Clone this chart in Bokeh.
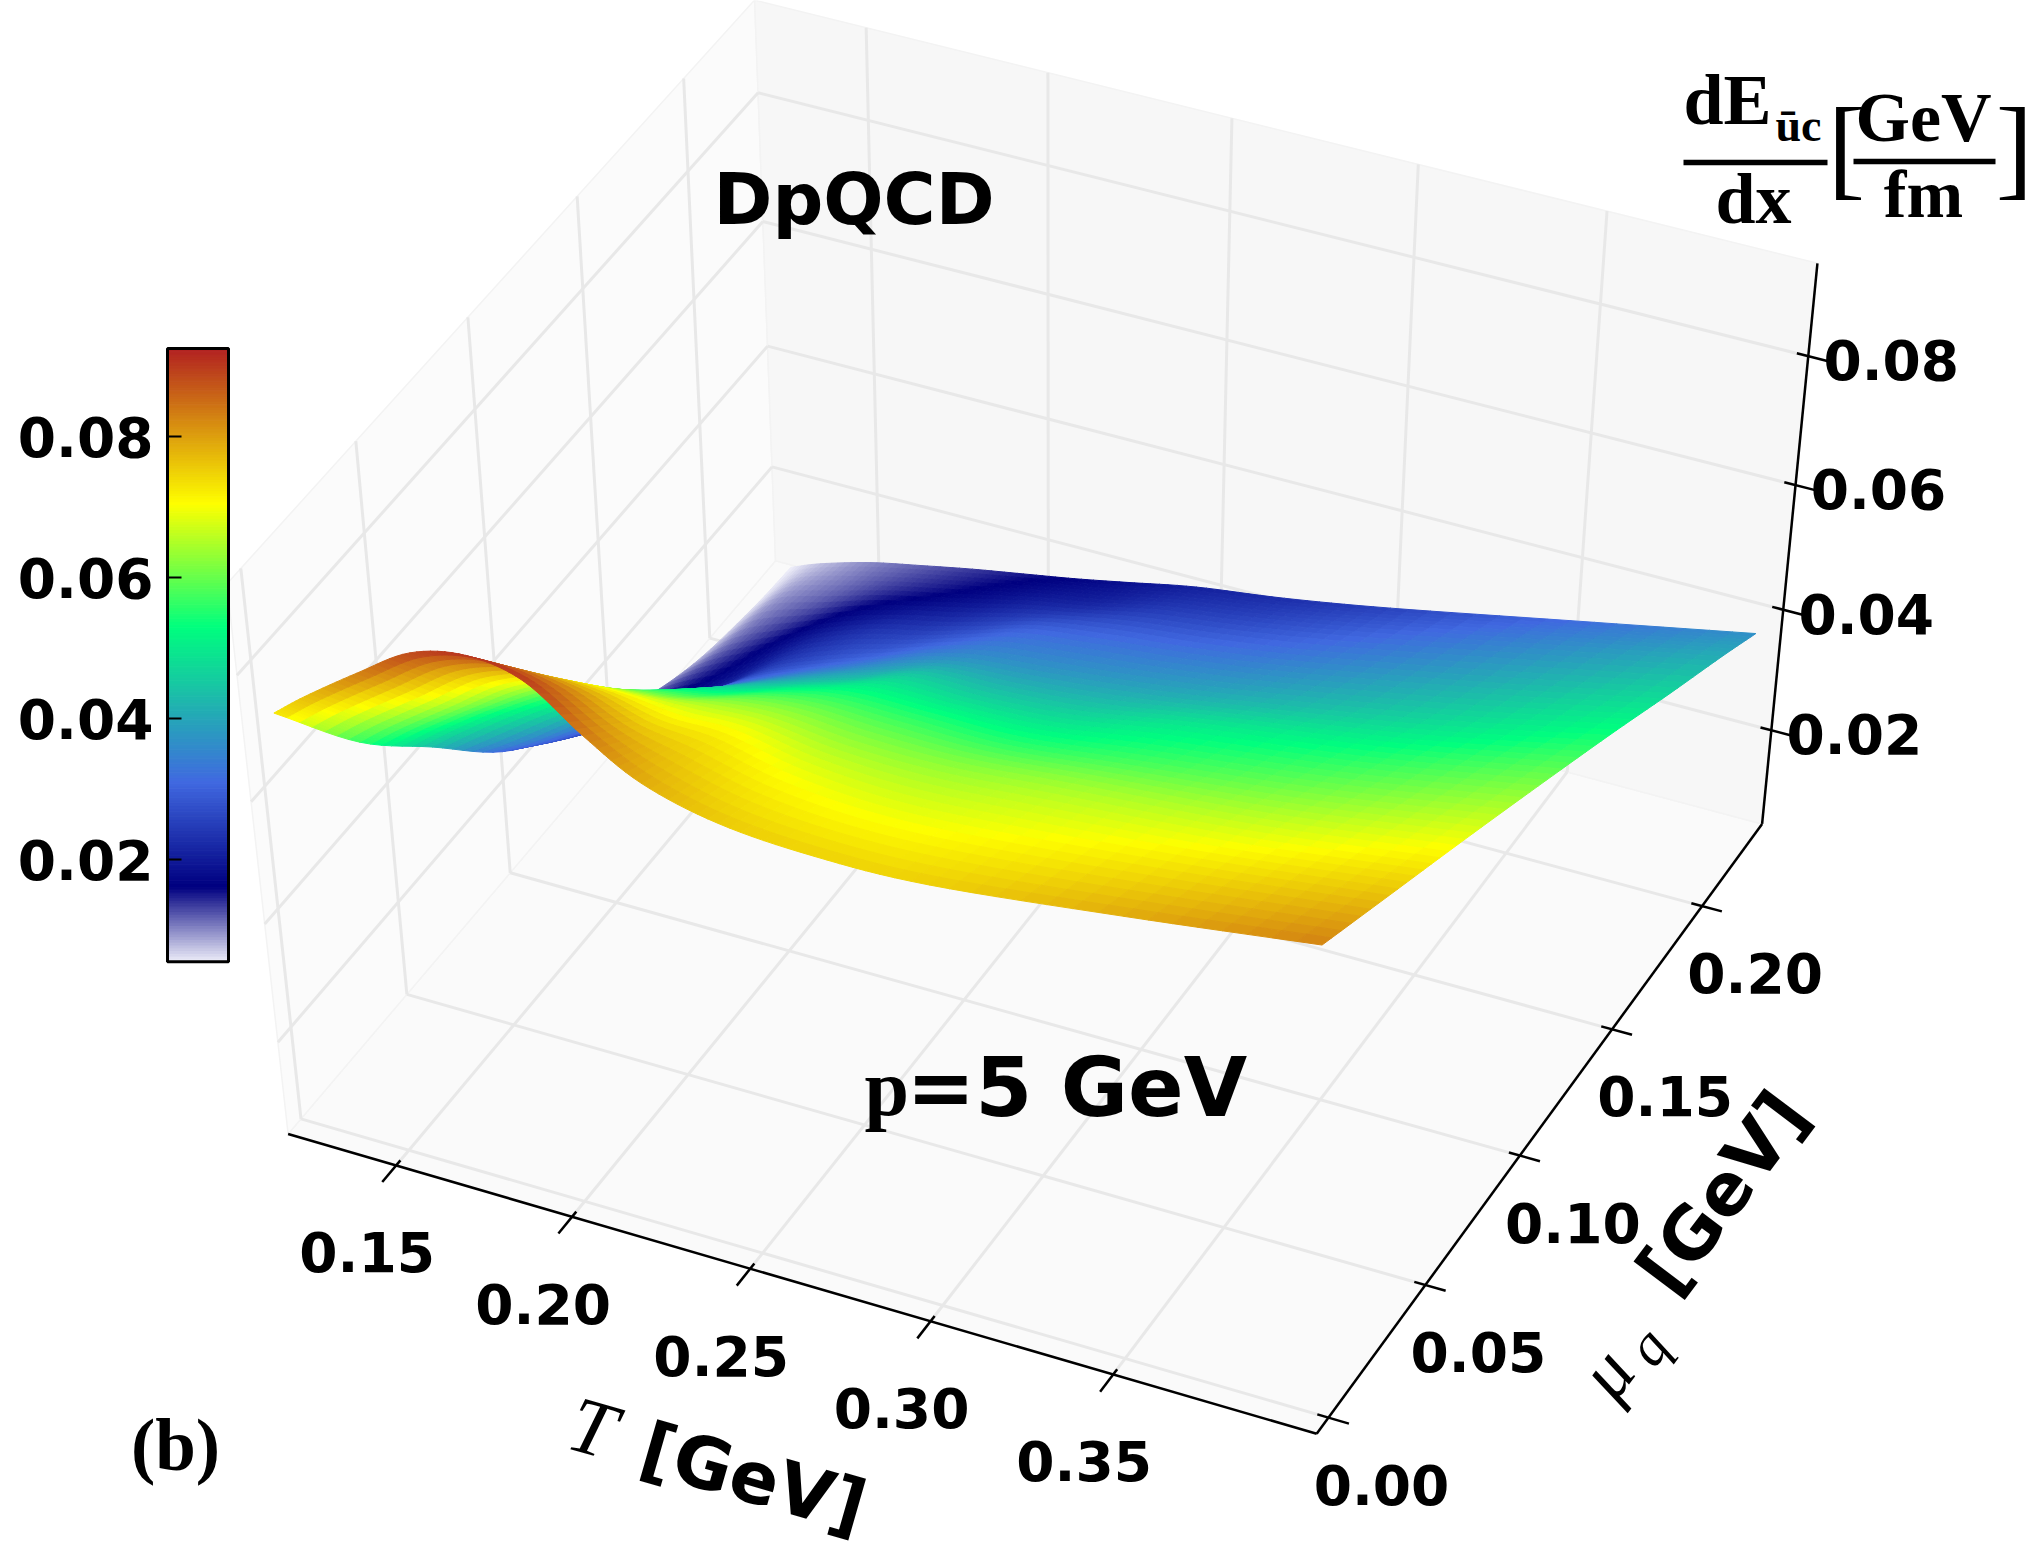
import numpy as np
from bokeh.plotting import figure
from bokeh.models import Range1d, ColumnDataSource
from bokeh.core.properties import value
from bokeh.embed import file_html
from bokeh.resources import INLINE

# ---- data -----------------------------------------------------------------
T_values = [0.126, 0.135, 0.15, 0.165, 0.18, 0.195, 0.21, 0.225, 0.245, 0.27, 0.30, 0.35, 0.40]
mu_values = [-0.003, 0.03, 0.06, 0.09, 0.12, 0.15, 0.18, 0.21, 0.23]
dE_mu000 = [0.074, 0.078, 0.084, 0.0895, 0.0915, 0.090, 0.084, 0.079, 0.076, 0.075, 0.0755, 0.079, 0.083]
dE_mu003 = [0.056, 0.060, 0.066, 0.072, 0.075, 0.075, 0.073, 0.0725, 0.070, 0.069, 0.070, 0.073, 0.0767]
dE_mu006 = [0.043, 0.047, 0.053, 0.058, 0.061, 0.062, 0.0635, 0.064, 0.063, 0.063, 0.0645, 0.067, 0.071]
dE_mu009 = [0.030, 0.033, 0.039, 0.045, 0.049, 0.051, 0.0535, 0.055, 0.055, 0.055, 0.057, 0.0605, 0.0652]
dE_mu012 = [0.021, 0.023, 0.028, 0.034, 0.038, 0.041, 0.0435, 0.046, 0.046, 0.047, 0.050, 0.054, 0.0593]
dE_mu015 = [0.0135, 0.016, 0.020, 0.0255, 0.029, 0.032, 0.035, 0.037, 0.038, 0.0395, 0.042, 0.047, 0.0533]
dE_mu018 = [0.0085, 0.012, 0.016, 0.020, 0.023, 0.025, 0.0275, 0.030, 0.0315, 0.033, 0.0355, 0.041, 0.0471]
dE_mu021 = [0.0062, 0.0095, 0.012, 0.0145, 0.0165, 0.0185, 0.0205, 0.022, 0.0245, 0.0265, 0.0295, 0.0353, 0.0411]
dE_mu023 = [0.0055, 0.0075, 0.010, 0.0118, 0.0135, 0.015, 0.0165, 0.0182, 0.0205, 0.0225, 0.0255, 0.0312, 0.0369]
dE_rows = [dE_mu000, dE_mu003, dE_mu006, dE_mu009, dE_mu012, dE_mu015, dE_mu018, dE_mu021, dE_mu023]

T_ticks = [0.15, 0.20, 0.25, 0.30, 0.35]
mu_ticks = [0.00, 0.05, 0.10, 0.15, 0.20]
z_ticks = [0.02, 0.04, 0.06, 0.08]
T_tick_labels = ["0.15", "0.20", "0.25", "0.30", "0.35"]
mu_tick_labels = ["0.00", "0.05", "0.10", "0.15", "0.20"]
z_tick_labels = ["0.02", "0.04", "0.06", "0.08"]

# ---- view: limits of the box and where known box points fall on the page ----
T_LO, T_HI = 0.119, 0.405
MU_LO, MU_HI = -0.006, 0.234
Z_LO, Z_HI = 0.004, 0.094
CAMERA = [((0, 0, 0), (285, 1138)), ((1, 0, 0), (1315, 1433)), ((1, 1, 0), (1759, 819)),
          ((0, 1, 0), (775, 560)), ((0, 0, 1), (233, 574)), ((1, 1, 1), (1819, 263)),
          ((0, 1, 0.844), (760, 94)), ((0, 1, 0.178), (774, 464)),
          ((0, 0.858, 1), (682, 78)), ((0, 0.65, 1), (575, 197)), ((0, 0.4417, 1), (464, 320)),
          ((0, 0.233, 1), (350, 445)), ((1, 0.233, 0), (1425, 1287)), ((1, 0.4417, 0), (1519, 1157)),
          ((1, 0.65, 0), (1612, 1031)), ((0.108, 0, 0), (395, 1165)), ((0.283, 0, 0), (573, 1215)),
          ((0.458, 0, 0), (752, 1265))]

A = []
for (u, v, w), (px, py) in CAMERA:
    px, py = px / 1000.0, py / 1000.0
    A.append([u, v, w, 1, 0, 0, 0, 0, -px * u, -px * v, -px * w, -px])
    A.append([0, 0, 0, 0, u, v, w, 1, -py * u, -py * v, -py * w, -py])
H = np.linalg.svd(np.array(A, float))[2][-1].reshape(3, 4)
if (H[2] @ np.array([0.5, 0.5, 0.5, 1])) < 0:
    H = -H


def project(T, mu, z):
    T, mu, z = np.broadcast_arrays(np.asarray(T, float), np.asarray(mu, float), np.asarray(z, float))
    u = (T - T_LO) / (T_HI - T_LO)
    v = (mu - MU_LO) / (MU_HI - MU_LO)
    w = (z - Z_LO) / (Z_HI - Z_LO)
    P = np.stack([u, v, w, np.ones_like(u)], axis=-1) @ H.T
    return 1000 * P[..., 0] / P[..., 2], 1000 * P[..., 1] / P[..., 2], P[..., 2]


# ---- colour scale ----------------------------------------------------------
STOP_Z = [0.0055, 0.0162, 0.031, 0.053, 0.0705, 0.0925]
STOP_RGB = np.array([(240, 240, 250), (0, 0, 128), (65, 105, 225), (0, 255, 127), (255, 255, 0), (178, 34, 34)], float)


def colour(z):
    z = np.asarray(z, float).ravel()
    ch = [np.interp(z, STOP_Z, STOP_RGB[:, i]) for i in range(3)]
    return ["#%02x%02x%02x" % (int(r), int(g), int(b)) for r, g, b in zip(*ch)]


# ---- page ------------------------------------------------------------------
p = figure(width=2025, height=1543, x_range=Range1d(0, 2025), y_range=Range1d(1543, 0),
           output_backend="svg", toolbar_location=None, min_border=0,
           background_fill_color="white", border_fill_color="white", outline_line_color=None)
p.axis.visible = False
p.grid.visible = False

# panes
panes = [((T_LO, MU_LO, Z_LO), (T_HI, MU_LO, Z_LO), (T_HI, MU_HI, Z_LO), (T_LO, MU_HI, Z_LO)),
         ((T_LO, MU_LO, Z_LO), (T_LO, MU_HI, Z_LO), (T_LO, MU_HI, Z_HI), (T_LO, MU_LO, Z_HI)),
         ((T_LO, MU_HI, Z_LO), (T_HI, MU_HI, Z_LO), (T_HI, MU_HI, Z_HI), (T_LO, MU_HI, Z_HI))]
pane_xy = [project(*np.array(q).T) for q in panes]
p.patches([list(q[0]) for q in pane_xy], [list(q[1]) for q in pane_xy],
          fill_color=["#fafafa", "#fbfbfb", "#f7f7f7"], line_color="#f3f3f3", line_width=1.5)

# grid lines
segs = []
for t in T_ticks:
    segs += [((t, MU_LO, Z_LO), (t, MU_HI, Z_LO)), ((t, MU_HI, Z_LO), (t, MU_HI, Z_HI))]
for m in mu_ticks:
    segs += [((T_LO, m, Z_LO), (T_HI, m, Z_LO)), ((T_LO, m, Z_LO), (T_LO, m, Z_HI))]
for z in z_ticks:
    segs += [((T_LO, MU_LO, z), (T_LO, MU_HI, z)), ((T_LO, MU_HI, z), (T_HI, MU_HI, z))]
seg_xy = [project(*np.array(s).T) for s in segs]
p.multi_line([list(s[0]) for s in seg_xy], [list(s[1]) for s in seg_xy], line_color="#e8e8e8", line_width=3)

# axis lines and ticks
axes = [((T_LO, MU_LO, Z_LO), (T_HI, MU_LO, Z_LO)), ((T_HI, MU_LO, Z_LO), (T_HI, MU_HI, Z_LO)),
        ((T_HI, MU_HI, Z_LO), (T_HI, MU_HI, Z_HI))]
for t in T_ticks:
    axes.append(((t, MU_LO - 0.0065, Z_LO), (t, MU_LO + 0.002, Z_LO)))
for m in mu_ticks:
    axes.append(((T_HI - 0.003, m, Z_LO), (T_HI + 0.0055, m, Z_LO)))
for z in z_ticks:
    axes.append(((T_HI - 0.003, MU_HI, z), (T_HI + 0.0055, MU_HI, z)))
ax_xy = [project(*np.array(s).T) for s in axes]
p.multi_line([list(s[0]) for s in ax_xy], [list(s[1]) for s in ax_xy], line_color="black", line_width=2.5)


# surface: a smooth curve through the read table, only to shade each table cell finely
def refine(arr, n, axis):
    arr = np.moveaxis(np.asarray(arr, float), axis, 0)
    m = arr.shape[0]
    ext = np.concatenate([2 * arr[:1] - arr[1:2], arr, 2 * arr[-1:] - arr[-2:-1]])
    out = []
    for i in range(m - 1):
        for k in range(n):
            s = k / n
            a, b, c, d = ext[i], ext[i + 1], ext[i + 2], ext[i + 3]
            out.append(0.5 * (2 * b + (c - a) * s + (2 * a - 5 * b + 4 * c - d) * s ** 2 + (3 * b - 3 * c + d - a) * s ** 3))
    out.append(arr[-1])
    return np.moveaxis(np.array(out), 0, axis)


SUB_T, SUB_MU = 8, 7
Z = np.array(dE_rows)
Tf = refine(np.array(T_values), SUB_T, 0)
Mf = refine(np.array(mu_values), SUB_MU, 0)
Zf = refine(refine(Z, SUB_T, 1), SUB_MU, 0)
TT, MM = np.meshgrid(Tf, Mf)
X, Y, W = project(TT, MM, Zf)


def corners(a):
    return np.stack([a[:-1, :-1], a[:-1, 1:], a[1:, 1:], a[1:, :-1]], axis=-1)


cx, cy, cw = corners(X), corners(Y), corners(W)
cz = corners(Zf).mean(axis=-1)
order = np.argsort(-cw.mean(axis=-1).ravel())
cols = colour(cz)
xs = cx.reshape(-1, 4)[order]
ys = cy.reshape(-1, 4)[order]
face_cols = [cols[i] for i in order]
src = ColumnDataSource(dict(xs=[list(np.round(a, 2)) for a in xs], ys=[list(np.round(a, 2)) for a in ys], c=face_cols))
p.patches("xs", "ys", source=src, fill_color="c", line_color="c", line_width=1)

# tick labels
BOLD = dict(text_font=value("DejaVu Sans"), text_font_style="bold", text_color="black")
lx, ly, _ = project(T_ticks, MU_LO, Z_LO)
p.text(lx, ly, text=T_tick_labels, x_offset=-29, y_offset=87, text_font_size="55px",
       text_align="center", text_baseline="middle", **BOLD)
lx, ly, _ = project(T_HI, mu_ticks, Z_LO)
p.text(lx, ly, text=mu_tick_labels, x_offset=53, y_offset=67, text_font_size="55px",
       text_align="center", text_baseline="middle", **BOLD)
lx, ly, _ = project(T_HI, MU_HI, z_ticks)
p.text(lx, ly, text=z_tick_labels, x_offset=83, y_offset=4, text_font_size="55px",
       text_align="center", text_baseline="middle", **BOLD)

# colour bar
CB_LEFT, CB_RIGHT = 167, 228
CB_Z_LO, CB_Z_HI = 0.0055, 0.0925


def cb_y(z):
    return 859 + (np.asarray(z, float) - 0.02) / 0.06 * (436 - 859)


levels = np.linspace(CB_Z_LO, CB_Z_HI, 221)
level_cols = colour((levels[1:] + levels[:-1]) / 2)
p.quad(left=CB_LEFT, right=CB_RIGHT, top=cb_y(levels[1:]), bottom=cb_y(levels[:-1]),
       fill_color=level_cols, line_color=level_cols, line_width=1)
p.quad(left=CB_LEFT, right=CB_RIGHT, top=cb_y(CB_Z_HI), bottom=cb_y(CB_Z_LO),
       fill_color=None, line_color="black", line_width=3)
p.segment(x0=CB_LEFT, x1=CB_LEFT + 14, y0=cb_y(z_ticks), y1=cb_y(z_ticks), line_color="black", line_width=2)
p.text([153] * 4, cb_y(z_ticks), text=z_tick_labels, text_font_size="55px",
       text_align="right", text_baseline="middle", **BOLD)


# free text
def label(x, y, s, size, font="DejaVu Sans", style="bold", align="left", angle=0.0):
    p.text([x], [y], text=[s], text_font=value(font), text_font_style=style, text_font_size=f"{size}px",
           text_align=align, text_baseline="middle", angle=np.radians(angle), text_color="black")


label(713, 199, "DpQCD", 71)
label(864, 1087, "p", 80, font="Liberation Serif")
label(906, 1087, "=5 GeV", 82)
label(175, 1445, "(b)", 73, font="Liberation Serif", align="center")
label(592, 1427, "T", 80, font="Liberation Serif", style="italic", align="center", angle=-16)
label(753, 1477, "[GeV]", 72, align="center", angle=-16)
label(1605, 1372, "μ", 76, font="Liberation Serif", style="italic", align="center", angle=53)
label(1647, 1346, "q", 58, font="Liberation Serif", style="italic", align="center", angle=53)
label(1722, 1192, "[GeV]", 72, align="center", angle=53)

SERIF = "Liberation Serif"
label(1683, 99, "dE", 72, font=SERIF)
label(1775, 125, "ūc", 46, font=SERIF)
label(1753, 198, "dx", 72, font=SERIF, align="center")
label(1923, 117, "GeV", 70, font=SERIF, align="center")
label(1923, 193, "fm", 68, font=SERIF, align="center")
label(1846, 146, "[", 112, font=SERIF, style="normal", align="center")
label(2014, 146, "]", 112, font=SERIF, style="normal", align="center")
p.segment(x0=[1683, 1853], x1=[1827, 1995], y0=[162, 161], y1=[162, 161], line_color="black", line_width=5.5)

open("out.html", "w").write(file_html(p, INLINE))
